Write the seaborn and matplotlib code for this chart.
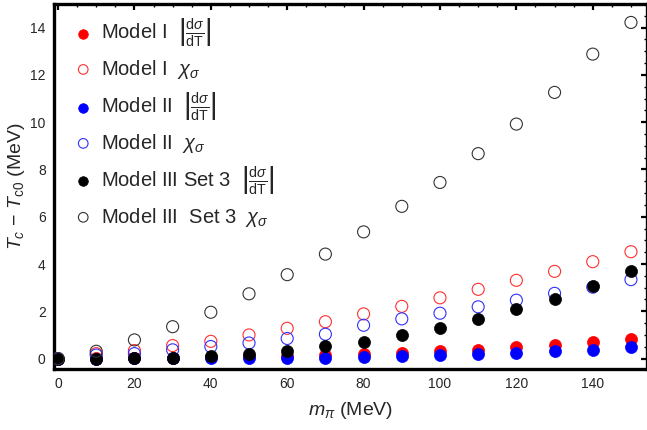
import numpy as np
import pandas as pd
import matplotlib
matplotlib.use("Agg")
import matplotlib.pyplot as plt
from matplotlib.ticker import MultipleLocator
import seaborn as sns

# pion masses (MeV)
m_pi = [0, 10, 20, 30, 40, 50, 60, 70, 80, 90, 100, 110, 120, 130, 140, 150]

# shift of the pseudo-critical temperature, T_c - T_c0 (MeV)
model1_dsigma = [0, 0.01, 0.02, 0.04, 0.06, 0.09, 0.12, 0.17, 0.20, 0.24, 0.31, 0.38, 0.48, 0.59, 0.69, 0.83]
model1_chi = [0, 0.21, 0.34, 0.55, 0.73, 1.00, 1.28, 1.56, 1.89, 2.21, 2.57, 2.93, 3.31, 3.69, 4.10, 4.52]
model2_dsigma = [0, 0.00, 0.01, 0.01, 0.02, 0.02, 0.03, 0.04, 0.08, 0.11, 0.14, 0.20, 0.24, 0.31, 0.38, 0.47]
model2_chi = [0, 0.15, 0.21, 0.37, 0.51, 0.66, 0.85, 1.03, 1.41, 1.68, 1.92, 2.19, 2.47, 2.76, 3.02, 3.34]
model3_dsigma = [0, 0.00, 0.02, 0.04, 0.13, 0.20, 0.34, 0.52, 0.72, 0.99, 1.31, 1.68, 2.09, 2.54, 3.07, 3.72]
model3_chi = [0, 0.31, 0.79, 1.35, 1.96, 2.74, 3.55, 4.42, 5.36, 6.44, 7.45, 8.67, 9.92, 11.26, 12.88, 14.22]

dfrac = r"$\left|\frac{\mathrm{d}\sigma}{\mathrm{dT}}\right|$"
chi = r"$\chi_\sigma$"
series = [
    ("Model I  " + dfrac, model1_dsigma, "#ff0000", True),
    ("Model I  " + chi, model1_chi, "#ff3030", False),
    ("Model II  " + dfrac, model2_dsigma, "#0000ff", True),
    ("Model II  " + chi, model2_chi, "#3030ff", False),
    ("Model III Set 3  " + dfrac, model3_dsigma, "#000000", True),
    ("Model III  Set 3  " + chi, model3_chi, "#333333", False),
]

sns.set_style("white")
plt.rcParams["font.family"] = ["Liberation Sans", "DejaVu Sans"]
plt.rcParams["mathtext.fontset"] = "custom"
plt.rcParams["mathtext.rm"] = "Liberation Sans"
plt.rcParams["mathtext.it"] = "Liberation Sans:italic"
plt.rcParams["mathtext.bf"] = "Liberation Sans:bold"

fig = plt.figure(figsize=(6.47, 4.30), dpi=100)
ax = fig.add_axes([0.0835, 0.1419, 0.9165, 0.8488])

for label, vals, color, filled in series:
    df = pd.DataFrame({"m": m_pi, "dT": vals})
    if filled:
        sns.scatterplot(data=df, x="m", y="dT", ax=ax, s=75, marker="o",
                        color=color, edgecolor=color, linewidth=0.5, label=label, zorder=3)
    else:
        sns.scatterplot(data=df, x="m", y="dT", ax=ax, s=75, marker="o",
                        facecolors="none", edgecolor=color, linewidth=0.8, label=label, zorder=3)

ax.set_xlim(-1.05, 154.2)
ax.set_ylim(-0.44, 15.0)
ax.xaxis.set_major_locator(MultipleLocator(20))
ax.xaxis.set_minor_locator(MultipleLocator(5))
ax.yaxis.set_major_locator(MultipleLocator(2))
ax.yaxis.set_minor_locator(MultipleLocator(0.5))
ax.tick_params(which="both", direction="in", top=True, right=True,
               labeltop=False, labelright=False, color="black")
ax.tick_params(which="major", length=4, width=1.6, labelsize=10, pad=6)
ax.tick_params(which="minor", length=2.2, width=1.0)
for side, sp in ax.spines.items():
    sp.set_visible(True)
    sp.set_color("black")
    sp.set_linewidth(2.4)

ax.set_xlabel(r"$m_\pi$ (MeV)", fontsize=14, labelpad=6)
ax.set_ylabel(r"$T_c$ − $T_{\mathrm{c0}}$ (MeV)", fontsize=14, labelpad=2)

leg = ax.legend(loc="upper left", bbox_to_anchor=(0.0, 1.005), frameon=False,
                fontsize=14.5, labelspacing=0.47, handletextpad=0.15,
                borderaxespad=0.3, markerscale=0.8, handlelength=1.5)

fig.savefig("out.png", dpi=100)
